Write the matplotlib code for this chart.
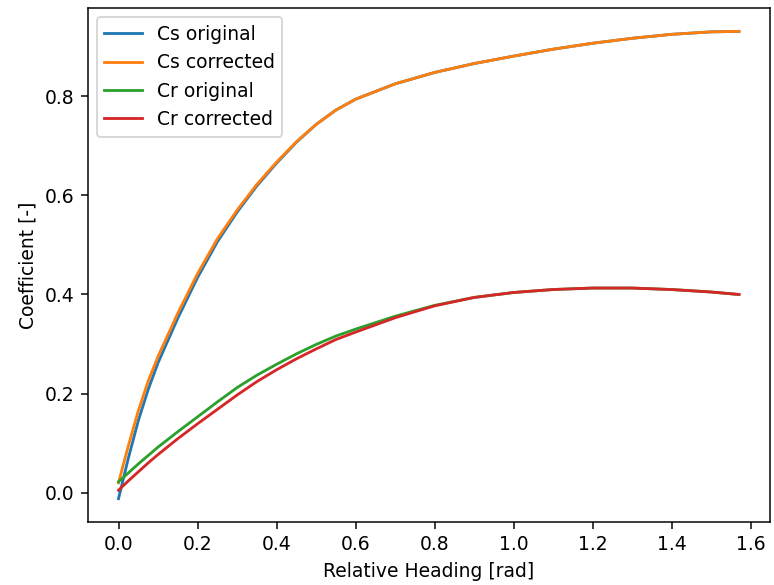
import numpy as np
import matplotlib
matplotlib.use('Agg')
import matplotlib.pyplot as plt

# relative heading samples [rad]
heading = [0.0, 0.025, 0.05, 0.075, 0.1, 0.15, 0.2, 0.25, 0.3, 0.35, 0.4, 0.45, 0.5,
           0.55, 0.6, 0.7, 0.8, 0.9, 1.0, 1.1, 1.2, 1.3, 1.4, 1.5, 1.5708]

cs_original = [-0.012, 0.070, 0.145, 0.208, 0.262, 0.352, 0.434, 0.506, 0.566, 0.619, 0.665,
               0.707, 0.743, 0.772, 0.794, 0.825, 0.848, 0.866, 0.881, 0.895, 0.907,
               0.917, 0.925, 0.930, 0.931]
cs_corrected = [0.020, 0.095, 0.165, 0.225, 0.275, 0.362, 0.442, 0.512, 0.570, 0.622, 0.667,
                0.708, 0.743, 0.772, 0.794, 0.825, 0.848, 0.866, 0.881, 0.895, 0.907,
                0.917, 0.925, 0.930, 0.931]
cr_original = [0.022, 0.040, 0.058, 0.075, 0.092, 0.123, 0.153, 0.183, 0.212, 0.237, 0.259,
               0.280, 0.299, 0.316, 0.330, 0.356, 0.378, 0.394, 0.404, 0.410, 0.413,
               0.413, 0.410, 0.405, 0.400]
cr_corrected = [0.005, 0.024, 0.042, 0.060, 0.077, 0.109, 0.139, 0.168, 0.197, 0.224, 0.248,
                0.270, 0.290, 0.309, 0.324, 0.353, 0.377, 0.394, 0.404, 0.410, 0.413,
                0.413, 0.410, 0.405, 0.400]

dpi = 135
fig = plt.figure(figsize=(774/dpi, 585/dpi), dpi=dpi)
ax = fig.add_axes([87.5/774, 63/585, 682.5/774, 514/585])

ax.plot(heading, cs_original, label='Cs original')
ax.plot(heading, cs_corrected, label='Cs corrected')
ax.plot(heading, cr_original, label='Cr original')
ax.plot(heading, cr_corrected, label='Cr corrected')

ax.set_xlabel('Relative Heading [rad]')
ax.set_ylabel('Coefficient [-]')
ax.legend(loc='upper left')

fig.savefig('out.png', dpi=dpi)
